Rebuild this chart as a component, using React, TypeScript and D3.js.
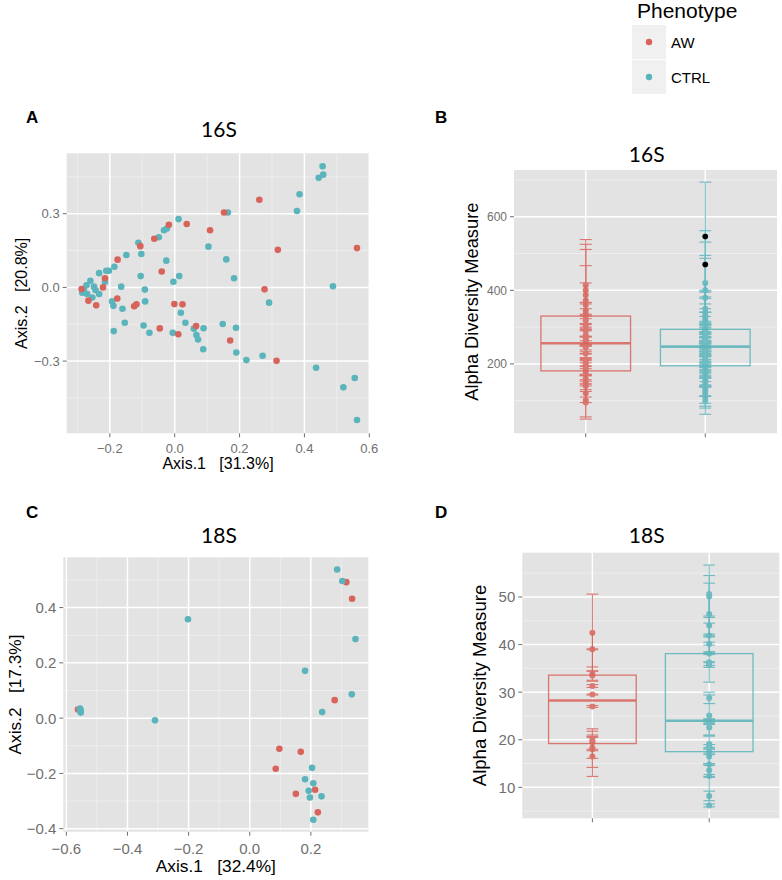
import React from "react";
import * as d3 from "d3";

// ---------- DATA ----------
const phenotypes = ["AW", "CTRL"];
const phenoColors = ["#d8635b", "#5ab4bb"];

// Panel A: 16S PCoA
const pcoa16AW: [number, number][] = [
  [-0.287, -0.007], [-0.266, -0.054], [-0.242, -0.073], [-0.221, 0.0], [-0.215, 0.037],
  [-0.176, 0.113], [-0.177, -0.045], [-0.125, -0.077], [-0.118, -0.069], [-0.106, 0.168],
  [-0.063, 0.198], [-0.04, 0.065], [-0.018, 0.255], [0.037, 0.258], [-0.001, -0.068],
  [0.024, -0.069], [-0.046, -0.167], [0.011, -0.191], [0.066, -0.157], [0.109, 0.233],
  [0.152, 0.305], [0.171, -0.216], [0.261, 0.357], [0.277, -0.008], [0.318, 0.153],
  [0.314, -0.299], [0.562, 0.16],
];
const pcoa16CTRL: [number, number][] = [
  [0.456, 0.493], [0.444, 0.446], [0.458, 0.459], [0.385, 0.379], [0.377, 0.311],
  [0.164, 0.305], [0.012, 0.278], [-0.033, 0.233], [-0.024, 0.24], [-0.049, 0.204],
  [0.104, 0.166], [-0.112, 0.182], [-0.103, 0.136], [-0.149, 0.132], [-0.026, 0.109],
  [0.159, 0.114], [-0.186, 0.084], [-0.203, 0.068], [-0.211, 0.068], [-0.233, 0.058],
  [-0.105, 0.046], [0.014, 0.046], [-0.004, 0.023], [0.183, 0.037], [-0.215, 0.022],
  [-0.165, 0.003], [0.488, 0.005], [-0.092, -0.009], [-0.091, -0.057], [-0.193, -0.057],
  [-0.189, -0.075], [-0.161, -0.087], [0.291, -0.062], [0.019, -0.103], [0.033, -0.144],
  [-0.154, -0.144], [-0.096, -0.155], [0.059, -0.168], [0.089, -0.166], [0.148, -0.149],
  [0.189, -0.164], [-0.188, -0.178], [-0.078, -0.185], [-0.006, -0.185], [0.067, -0.194],
  [0.072, -0.212], [0.088, -0.252], [0.19, -0.265], [0.221, -0.296], [0.271, -0.278],
  [0.436, -0.327], [0.52, -0.407], [0.555, -0.369], [0.562, -0.54],
  [-0.285, -0.022], [-0.272, 0.009], [-0.26, 0.027], [-0.249, 0.003], [-0.244, -0.011],
  [-0.233, -0.027], [-0.254, -0.041], [-0.27, -0.027], [-0.28, -0.011],
];

// Panel C: 18S PCoA
const pcoa18AW: [number, number][] = [
  [-0.562, 0.031], [0.316, 0.492], [0.335, 0.432], [0.278, 0.065], [0.097, -0.111],
  [0.167, -0.122], [0.085, -0.183], [0.214, -0.259], [0.151, -0.274], [0.223, -0.341],
];
const pcoa18CTRL: [number, number][] = [
  [0.286, 0.538], [0.303, 0.496], [0.346, 0.286], [-0.202, 0.358], [0.181, 0.171],
  [0.334, 0.086], [0.237, 0.022], [-0.31, -0.008], [-0.555, 0.035], [-0.553, 0.027],
  [-0.556, 0.03], [-0.553, 0.02], [0.204, -0.18], [0.181, -0.221], [0.208, -0.236],
  [0.193, -0.263], [0.197, -0.287], [0.235, -0.283], [0.208, -0.368],
];

// Panel B: 16S alpha diversity (value and standard error)
const alpha16AW = [95, 101, 120, 140, 150, 160, 172, 181, 190, 198, 205, 212, 228, 245, 256, 262, 270, 278, 290, 305, 318, 330, 337, 345, 360, 372, 387, 400, 414];
const alpha16AWse = [45, 45, 25, 30, 20, 35, 15, 28, 22, 30, 12, 40, 25, 30, 18, 35, 22, 15, 40, 30, 45, 20, 30, 22, 60, 139, 138, 67, 124];
const alpha16CTRL = [100, 110, 118, 125, 132, 140, 148, 155, 162, 170, 178, 186, 195, 200, 205, 210, 214, 220, 225, 230, 234, 238, 241, 244, 247, 252, 256, 260, 265, 270, 274, 278, 282, 285, 288, 291, 294, 300, 310, 318, 325, 332, 340, 350, 380, 400, 420, 470, 546];
const alpha16CTRLse = [37, 30, 25, 40, 20, 28, 35, 18, 22, 30, 15, 25, 33, 20, 28, 12, 24, 30, 18, 26, 22, 35, 15, 20, 28, 18, 32, 25, 20, 38, 24, 16, 30, 22, 28, 50, 35, 40, 30, 45, 25, 50, 60, 45, 107, 95, 111, 92, 148];

// Panel D: 18S alpha diversity
const alpha18AW = [42.5, 39.0, 33.8, 33.5, 31.3, 29.5, 27.0, 20.0, 19.5, 18.3, 18.0, 16.5];
const alpha18AWse = [8.1, 0.1, 1.5, 1.0, 0.3, 0.1, 0.2, 2.3, 1.5, 2.2, 3.8, 4.2];
const alpha18CTRL = [50.6, 50.1, 46.4, 44.0, 41.9, 40.1, 38.1, 36.3, 36.0, 35.7, 28.8, 25.1, 24.0, 23.8, 23.5, 22.6, 19.1, 18.7, 17.5, 16.5, 14.8, 13.6, 12.4, 8.2, 6.2];
const alpha18CTRLse = [6.1, 4.4, 6.5, 2.0, 0.3, 1.6, 0.2, 4.2, 0.4, 0.5, 1.2, 4.3, 0.3, 0.4, 0.3, 1.8, 1.9, 0.3, 0.6, 1.5, 0.2, 1.3, 0.3, 1.0, 0.3];

// Axis ticks
const ticksAx = [-0.2, 0.0, 0.2, 0.4, 0.6];
const ticksAy = [-0.3, 0.0, 0.3];
const ticksB = [200, 400, 600];
const ticksCx = [-0.6, -0.4, -0.2, 0.0, 0.2];
const ticksCy = [-0.4, -0.2, 0.0, 0.2, 0.4];
const ticksD = [10, 20, 30, 40, 50];

// ---------- STYLE ----------
const PANEL_BG = "#e3e3e3";
const MINOR = "#f0f0f0";
const AXIS_TEXT = "#6f6f6f";
const SANS = "'Liberation Sans', Arial, sans-serif";
const TITLE_FONT = "Lato, 'Open Sans', sans-serif";

type Rect = { x0: number; x1: number; y0: number; y1: number };
type Group = { pts: [number, number][]; color: string };

const fmt = (v: number) => {
  const s = v.toFixed(1);
  return v < 0 ? "\u2212" + s.slice(1) : s;
};

function minorsBetween(ticks: number[], lo: number, hi: number) {
  const step = ticks[1] - ticks[0];
  const out: number[] = [];
  const start = ticks[0] - step * 3;
  for (let i = 0; i < 20; i++) {
    const v = start + step / 2 + i * step;
    if (v > lo && v < hi) out.push(v);
  }
  return out;
}

function Scatter(props: {
  rect: Rect; xDomain: [number, number]; yDomain: [number, number];
  xTicks: number[]; yTicks: number[]; groups: Group[];
  tickSize: number; titleSize: number; xTitle: string; yTitle: string;
  xTitleY: number; yTitleX: number; xLabelY: number;
}) {
  const { rect, xDomain, yDomain, xTicks, yTicks, groups } = props;
  const x = d3.scaleLinear().domain(xDomain).range([rect.x0, rect.x1]);
  const y = d3.scaleLinear().domain(yDomain).range([rect.y1, rect.y0]);
  const xMinor = minorsBetween(xTicks, xDomain[0], xDomain[1]);
  const yMinor = minorsBetween(yTicks, yDomain[0], yDomain[1]);
  const cx = (rect.x0 + rect.x1) / 2;
  const cy = (rect.y0 + rect.y1) / 2;
  return (
    <g>
      <rect x={rect.x0} y={rect.y0} width={rect.x1 - rect.x0} height={rect.y1 - rect.y0} fill={PANEL_BG} />
      {xMinor.map((v) => <line key={"xm" + v} x1={x(v)} x2={x(v)} y1={rect.y0} y2={rect.y1} stroke={MINOR} strokeWidth={0.8} />)}
      {yMinor.map((v) => <line key={"ym" + v} y1={y(v)} y2={y(v)} x1={rect.x0} x2={rect.x1} stroke={MINOR} strokeWidth={0.8} />)}
      {xTicks.filter((v) => x(v) <= rect.x1 + 1).map((v) => <line key={"xg" + v} x1={x(v)} x2={x(v)} y1={rect.y0} y2={rect.y1} stroke="#fff" strokeWidth={1.5} />)}
      {yTicks.map((v) => <line key={"yg" + v} y1={y(v)} y2={y(v)} x1={rect.x0} x2={rect.x1} stroke="#fff" strokeWidth={1.5} />)}
      {groups.map((g, gi) =>
        g.pts.map((p, i) => <circle key={gi + "-" + i} cx={x(p[0])} cy={y(p[1])} r={3.3} fill={g.color} />)
      )}
      {xTicks.map((v) => (
        <g key={"xt" + v}>
          <line x1={x(v)} x2={x(v)} y1={rect.y1} y2={rect.y1 + 4} stroke={AXIS_TEXT} strokeWidth={1} />
          <text x={x(v)} y={props.xLabelY} textAnchor="middle" fontSize={props.tickSize} fill={AXIS_TEXT} fontFamily={SANS}>{fmt(v)}</text>
        </g>
      ))}
      {yTicks.map((v) => (
        <g key={"yt" + v}>
          <line x1={rect.x0 - 4} x2={rect.x0} y1={y(v)} y2={y(v)} stroke={AXIS_TEXT} strokeWidth={1} />
          <text x={rect.x0 - 7} y={y(v) + props.tickSize * 0.36} textAnchor="end" fontSize={props.tickSize} fill={AXIS_TEXT} fontFamily={SANS}>{fmt(v)}</text>
        </g>
      ))}
      <text x={cx} y={props.xTitleY} textAnchor="middle" fontSize={props.titleSize} fontFamily={SANS} fill="#000" xmlSpace="preserve">{props.xTitle}</text>
      <text transform={`translate(${props.yTitleX},${cy}) rotate(-90)`} textAnchor="middle" fontSize={props.titleSize} fontFamily={SANS} fill="#000" xmlSpace="preserve">{props.yTitle}</text>
    </g>
  );
}

function AlphaBox(props: {
  rect: Rect; yDomain: [number, number]; yTicks: number[];
  values: number[][]; ses: number[][]; tickSize: number; titleSize: number;
  yTitleX: number; minorStep: number;
}) {
  const { rect, yDomain, yTicks } = props;
  const x = d3.scaleLinear().domain([0.4, 2.6]).range([rect.x0, rect.x1]);
  const y = d3.scaleLinear().domain(yDomain).range([rect.y1, rect.y0]);
  const unit = x(2) - x(1);
  const minors: number[] = [];
  for (let v = Math.ceil(yDomain[0] / props.minorStep) * props.minorStep; v < yDomain[1]; v += props.minorStep) {
    if (!yTicks.some((t) => Math.abs(t - v) < 1e-9)) minors.push(v);
  }
  const cy = (rect.y0 + rect.y1) / 2;
  return (
    <g>
      <rect x={rect.x0} y={rect.y0} width={rect.x1 - rect.x0} height={rect.y1 - rect.y0} fill={PANEL_BG} />
      {minors.map((v) => <line key={"m" + v} y1={y(v)} y2={y(v)} x1={rect.x0} x2={rect.x1} stroke={MINOR} strokeWidth={0.8} />)}
      {yTicks.map((v) => <line key={"g" + v} y1={y(v)} y2={y(v)} x1={rect.x0} x2={rect.x1} stroke="#fff" strokeWidth={1.5} />)}
      {phenotypes.map((p, gi) => <line key={"vx" + p} x1={x(gi + 1)} x2={x(gi + 1)} y1={rect.y0} y2={rect.y1} stroke="#fff" strokeWidth={1.5} />)}
      {phenotypes.map((p, gi) => {
        const cx = x(gi + 1);
        const col = phenoColors[gi];
        const vals = props.values[gi];
        const se = props.ses[gi];
        const capW = unit * 0.05;
        return (
          <g key={"eb" + p} opacity={0.85}>
            {vals.map((v, i) => (
              <g key={i}>
                <line x1={cx} x2={cx} y1={y(v + se[i])} y2={y(v - se[i])} stroke={col} strokeWidth={1.1} />
                <line x1={cx - capW} x2={cx + capW} y1={y(v + se[i])} y2={y(v + se[i])} stroke={col} strokeWidth={1.1} />
                <line x1={cx - capW} x2={cx + capW} y1={y(v - se[i])} y2={y(v - se[i])} stroke={col} strokeWidth={1.1} />
                <circle cx={cx} cy={y(v)} r={3} fill={col} />
              </g>
            ))}
          </g>
        );
      })}
      {phenotypes.map((p, gi) => {
        const cx = x(gi + 1);
        const col = phenoColors[gi];
        const sorted = [...props.values[gi]].sort((a, b) => a - b);
        const q1 = d3.quantile(sorted, 0.25) as number;
        const med = d3.quantile(sorted, 0.5) as number;
        const q3 = d3.quantile(sorted, 0.75) as number;
        const iqr = q3 - q1;
        const hiW = d3.max(sorted.filter((v) => v <= q3 + 1.5 * iqr)) as number;
        const loW = d3.min(sorted.filter((v) => v >= q1 - 1.5 * iqr)) as number;
        const outliers = sorted.filter((v) => v > hiW || v < loW);
        const hw = unit * 0.375;
        return (
          <g key={"bx" + p}>
            <g opacity={0.85}>
              <line x1={cx} x2={cx} y1={y(q3)} y2={y(hiW)} stroke={col} strokeWidth={1.1} />
              <line x1={cx} x2={cx} y1={y(q1)} y2={y(loW)} stroke={col} strokeWidth={1.1} />
              <rect x={cx - hw} y={y(q3)} width={hw * 2} height={y(q1) - y(q3)} fill="none" stroke={col} strokeWidth={1.3} />
              <line x1={cx - hw} x2={cx + hw} y1={y(med)} y2={y(med)} stroke={col} strokeWidth={2.6} />
            </g>
            {outliers.map((v, i) => <circle key={i} cx={cx} cy={y(v)} r={2.8} fill="#000" />)}
          </g>
        );
      })}
      {phenotypes.map((p, gi) => <line key={"xt" + p} x1={x(gi + 1)} x2={x(gi + 1)} y1={rect.y1} y2={rect.y1 + 4} stroke={AXIS_TEXT} strokeWidth={1} />)}
      {yTicks.map((v) => (
        <g key={"yt" + v}>
          <line x1={rect.x0 - 4} x2={rect.x0} y1={y(v)} y2={y(v)} stroke={AXIS_TEXT} strokeWidth={1} />
          <text x={rect.x0 - 7} y={y(v) + props.tickSize * 0.36} textAnchor="end" fontSize={props.tickSize} fill={AXIS_TEXT} fontFamily={SANS}>{v}</text>
        </g>
      ))}
      <text transform={`translate(${props.yTitleX},${cy}) rotate(-90)`} textAnchor="middle" fontSize={props.titleSize} fontFamily={SANS} fill="#000">Alpha Diversity Measure</text>
    </g>
  );
}

function PanelLabel({ x, y, t }: { x: number; y: number; t: string }) {
  return <text x={x} y={y} fontSize={17} fontWeight="bold" fontFamily={SANS} fill="#000">{t}</text>;
}
function PlotTitle({ x, y, t }: { x: number; y: number; t: string }) {
  return <text x={x} y={y} textAnchor="middle" fontSize={21} fontFamily={TITLE_FONT} fill="#000">{t}</text>;
}

export default function App() {
  return (
    <svg width={782} height={880} style={{ position: "absolute", left: 0, top: 0, background: "#fff" }}>
      {/* Legend */}
      <text x={637} y={18} fontSize={21} fontFamily={SANS} fill="#000">Phenotype</text>
      {phenotypes.map((p, i) => (
        <g key={p}>
          <rect x={632} y={25 + i * 35} width={34} height={34} fill="#f0f0f0" />
          <circle cx={649} cy={42 + i * 35} r={3.2} fill={phenoColors[i]} />
          <text x={671} y={42 + i * 35 + 5.5} fontSize={15} fontFamily={SANS} fill="#000">{p}</text>
        </g>
      ))}

      {/* A */}
      <PanelLabel x={26} y={123} t="A" />
      <PlotTitle x={219} y={137} t="16S" />
      <Scatter rect={{ x0: 66.7, x1: 369.3, y0: 153.3, y1: 433.3 }} xDomain={[-0.333, 0.6]} yDomain={[-0.594, 0.546]}
        xTicks={ticksAx} yTicks={ticksAy}
        groups={[{ pts: pcoa16CTRL, color: phenoColors[1] }, { pts: pcoa16AW, color: phenoColors[0] }]}
        tickSize={13} titleSize={16}
        xTitle="Axis.1   [31.3%]" yTitle="Axis.2   [20.8%]" xTitleY={469} yTitleX={27} xLabelY={452.5} />

      {/* B */}
      <PanelLabel x={435} y={123} t="B" />
      <PlotTitle x={646.7} y={162} t="16S" />
      <AlphaBox rect={{ x0: 514, x1: 777, y0: 170, y1: 433.3 }} yDomain={[11.4, 727]} yTicks={ticksB}
        values={[alpha16AW, alpha16CTRL]} ses={[alpha16AWse, alpha16CTRLse]} tickSize={12} titleSize={18.3}
        yTitleX={478} minorStep={100} />

      {/* C */}
      <PanelLabel x={26} y={518} t="C" />
      <PlotTitle x={219} y={543} t="18S" />
      <Scatter rect={{ x0: 63.3, x1: 368.3, y0: 557.3, y1: 831.7 }} xDomain={[-0.61, 0.388]} yDomain={[-0.411, 0.582]}
        xTicks={ticksCx} yTicks={ticksCy}
        groups={[{ pts: pcoa18AW, color: phenoColors[0] }, { pts: pcoa18CTRL, color: phenoColors[1] }]}
        tickSize={15} titleSize={17.3}
        xTitle="Axis.1   [32.4%]" yTitle="Axis.2   [17.3%]" xTitleY={872} yTitleX={21} xLabelY={854} />

      {/* D */}
      <PanelLabel x={435} y={518} t="D" />
      <PlotTitle x={646.7} y={543} t="18S" />
      <AlphaBox rect={{ x0: 522.3, x1: 779.3, y0: 552.7, y1: 818.3 }} yDomain={[3.5, 59.3]} yTicks={ticksD}
        values={[alpha18AW, alpha18CTRL]} ses={[alpha18AWse, alpha18CTRLse]} tickSize={15} titleSize={18.6}
        yTitleX={486} minorStep={5} />
    </svg>
  );
}
